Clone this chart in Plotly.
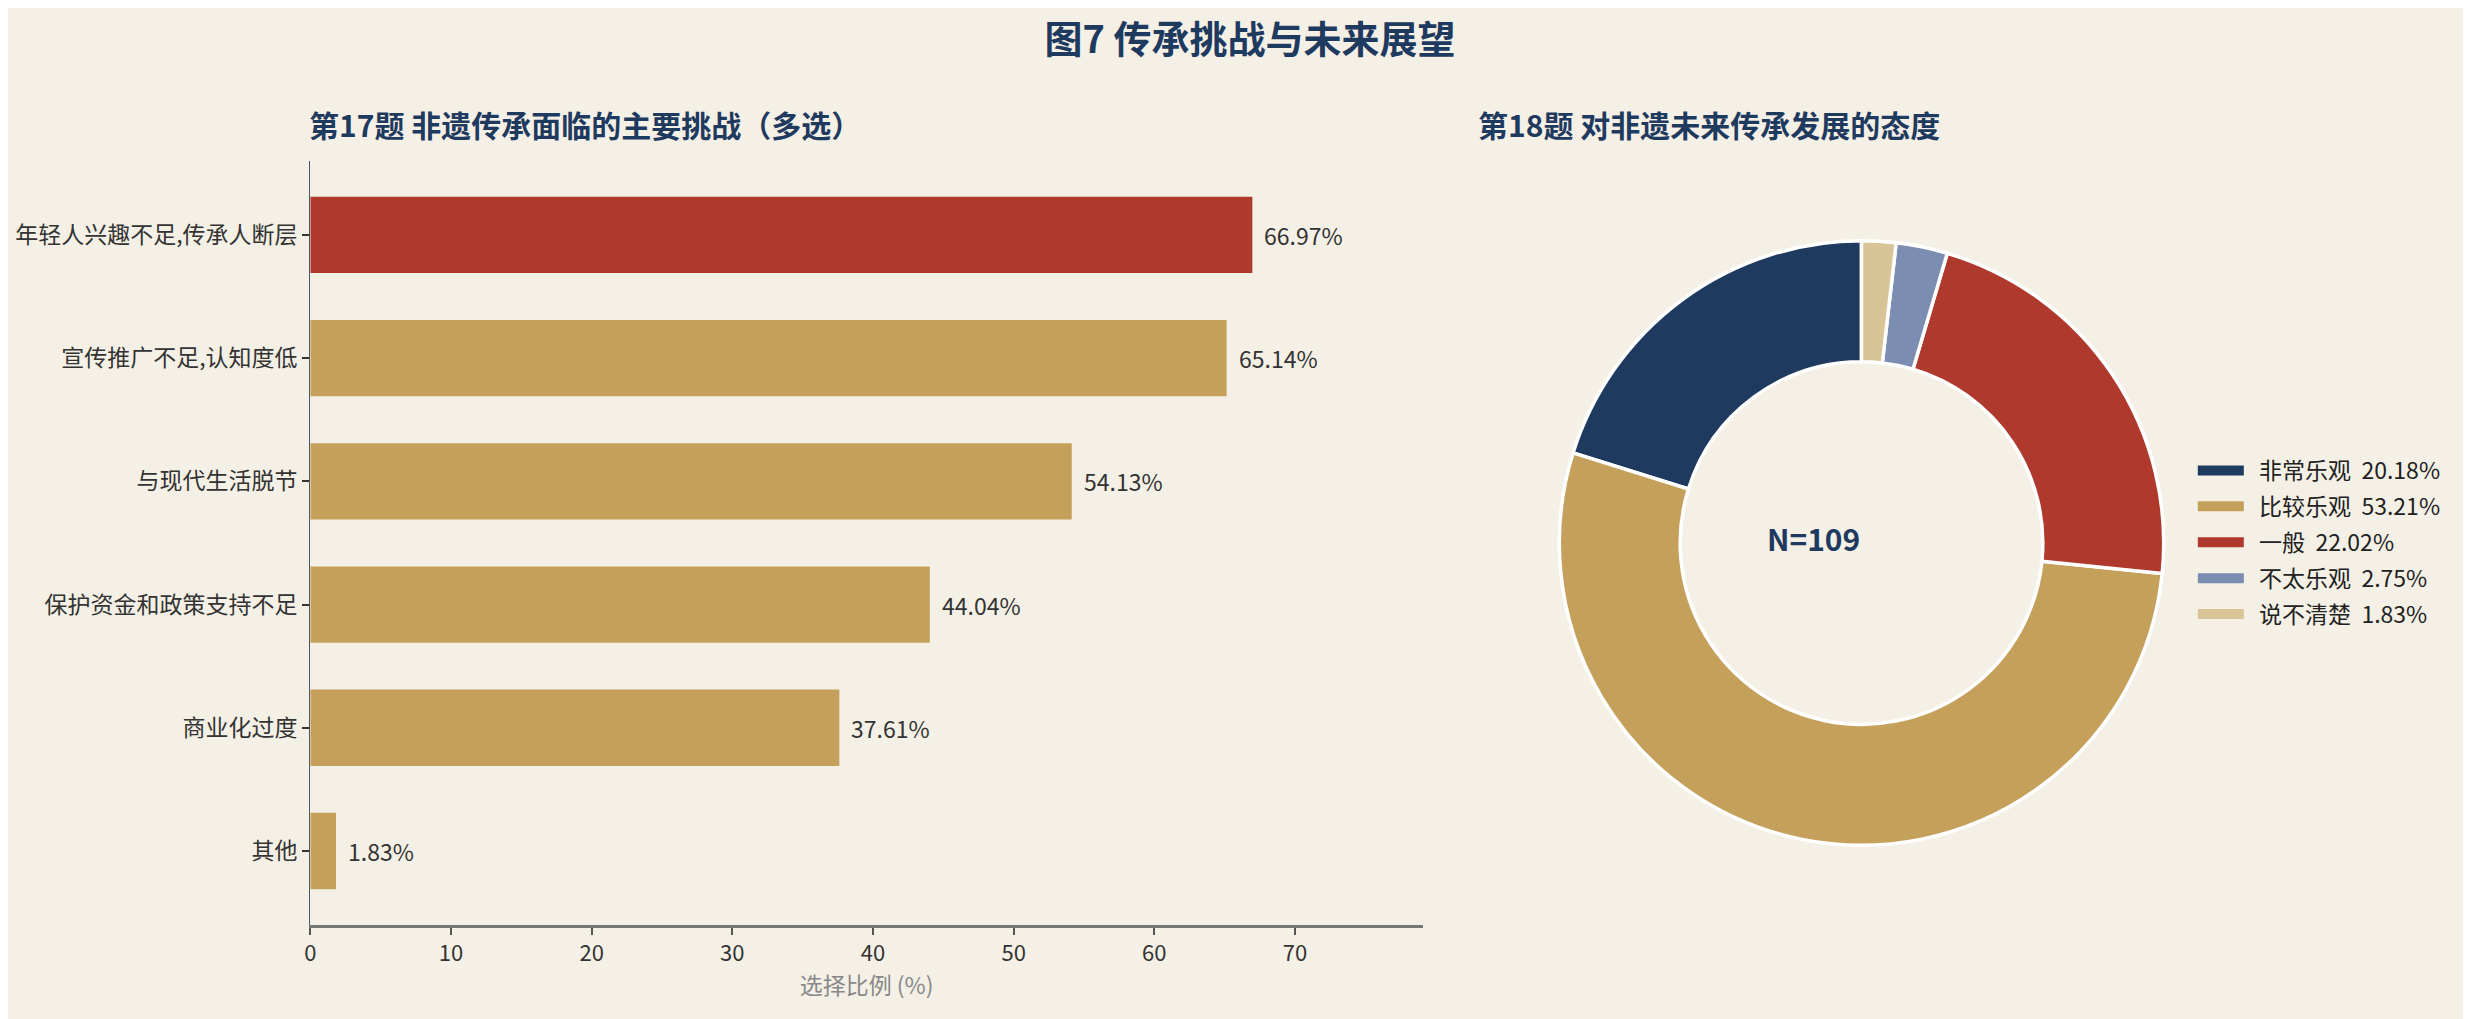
import plotly.graph_objects as go

# ---- data ----
challenges = [
    "年轻人兴趣不足,传承人断层",
    "宣传推广不足,认知度低",
    "与现代生活脱节",
    "保护资金和政策支持不足",
    "商业化过度",
    "其他",
]
challenge_pct = [66.97, 65.14, 54.13, 44.04, 37.61, 1.83]

attitudes = ["非常乐观", "比较乐观", "一般", "不太乐观", "说不清楚"]
attitude_pct = [20.18, 53.21, 22.02, 2.75, 1.83]
sample_n = 109

# ---- style ----
BG = "#f5f0e6"
NAVY = "#1f3a5f"
GOLD = "#c4a05b"
RED = "#b0392e"
BLUEGRAY = "#7b8db0"
TAN = "#d8c497"
FONT = "Noto Sans CJK SC"

bar_colors = [RED] + [GOLD] * (len(challenges) - 1)
pie_colors = [NAVY, GOLD, RED, BLUEGRAY, TAN]
pie_labels = [f"{a}\u00a0\u00a0{p:.2f}%" for a, p in zip(attitudes, attitude_pct)]

# plotly puts the first counterclockwise slice to the right of 12 o'clock,
# so turn it back by its own size to start it at 12 going left (like matplotlib)
start_rot = -attitude_pct[0] / sum(attitude_pct) * 360

fig = go.Figure()

# left: horizontal bars
fig.add_trace(go.Bar(
    x=challenge_pct,
    y=challenges,
    orientation="h",
    marker=dict(color=bar_colors, line=dict(width=0)),
    width=0.62,
    showlegend=False,
    hoverinfo="x+y",
    xaxis="x", yaxis="y",
))

# right: donut
fig.add_trace(go.Pie(
    labels=pie_labels,
    values=attitude_pct,
    marker=dict(colors=pie_colors, line=dict(color="white", width=3.5)),
    hole=0.6,
    sort=False,
    direction="counterclockwise",
    rotation=start_rot,
    textinfo="none",
    domain=dict(x=[0.6269, 0.8721], y=[0.1776, 0.7723]),
    showlegend=False,
))

# legend entries as wide colour strips (like the matplotlib patches)
for lab, col in zip(pie_labels, pie_colors):
    fig.add_trace(go.Scatter(
        x=[None], y=[None], mode="lines",
        line=dict(color=col, width=10),
        name="\u00a0\u00a0" + lab, legendgroup=lab, showlegend=True,
        xaxis="x", yaxis="y",
    ))

# value labels beside bars
for c, v in zip(challenges, challenge_pct):
    fig.add_annotation(
        x=v, y=c, xref="x", yref="y",
        text=f"{v:.2f}%", showarrow=False,
        xanchor="left", xshift=10,
        font=dict(size=23, color="#333333", family=FONT),
    )

# centre text of donut
fig.add_annotation(
    x=0.7495, y=0.48, xref="paper", yref="paper",
    text=f"<b>N={sample_n}</b>", showarrow=False,
    font=dict(size=30, color=NAVY, family=FONT),
)

# subplot titles
fig.add_annotation(
    x=0.1222, y=0.8862, xref="paper", yref="paper",
    text="<b>第17题 非遗传承面临的主要挑战（多选）</b>", showarrow=False,
    xanchor="left", yanchor="middle", xshift=-8,
    font=dict(size=30, color=NAVY, family=FONT),
)
fig.add_annotation(
    x=0.5949, y=0.8862, xref="paper", yref="paper",
    text="<b>第18题 对非遗未来传承发展的态度</b>", showarrow=False,
    xanchor="left", yanchor="middle", xshift=-4,
    font=dict(size=30, color=NAVY, family=FONT),
)

fig.update_layout(
    width=2471, height=1019,
    paper_bgcolor=BG, plot_bgcolor=BG,
    margin=dict(l=0, r=0, t=0, b=0),
    font=dict(family=FONT, color="#333333", size=23),
    title=dict(
        text="<b>图7 传承挑战与未来展望</b>",
        x=0.5026, y=0.969, xanchor="center", yanchor="middle",
        font=dict(size=38, color=NAVY, family=FONT),
    ),
    xaxis=dict(
        domain=[0.1202, 0.5716],
        range=[0, 79.1],
        tickmode="array", tickvals=[0, 10, 20, 30, 40, 50, 60, 70],
        showgrid=False, zeroline=False,
        showline=True, linecolor="#777777", linewidth=2.5,
        ticks="outside", ticklen=7, tickcolor="#555555", tickwidth=1.5,
        tickfont=dict(size=22, color="#333333"),
        title=dict(text="选择比例 (%)", font=dict(size=23, color="#888888"), standoff=12),
        anchor="y",
    ),
    yaxis=dict(
        domain=[0.1001, 0.8499],
        range=[5.6, -0.6],
        showgrid=False, zeroline=False,
        showline=True, linecolor="#4a5568", linewidth=1.2,
        ticks="outside", ticklen=7, tickcolor="#333333", tickwidth=1.5,
        tickfont=dict(size=23, color="#333333"),
        anchor="x",
    ),
    legend=dict(
        x=0.8839, y=0.5672, xanchor="left", yanchor="top",
        bgcolor="rgba(0,0,0,0)",
        font=dict(size=23, color="#222222", family=FONT),
        traceorder="grouped",
        tracegroupgap=3,
        itemwidth=46,
    ),
)

fig.write_html("out.html")
